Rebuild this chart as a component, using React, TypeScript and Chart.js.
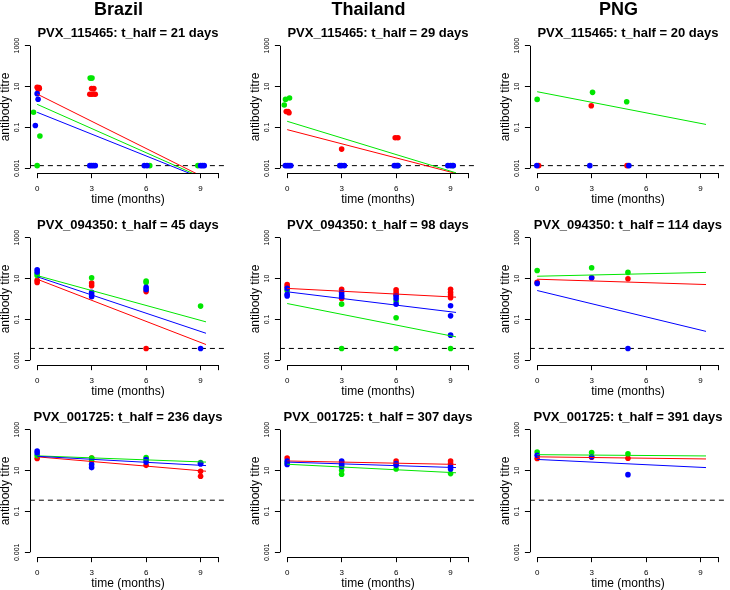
import React, { useEffect, useRef } from "react";
import { Chart, registerables } from "chart.js";

Chart.register(...registerables);

const FONT = '"Liberation Sans", Arial, Helvetica, sans-serif';

// ---- labels / axes ----
const countries = ["Brazil", "Thailand", "PNG"];
const antigens = ["PVX_115465", "PVX_094350", "PVX_001725"];
const halfLives = [
  [21, 29, 20],
  [45, 98, 114],
  [236, 307, 391],
];
const cutoffs = [0.00135, 0.0038, 0.355];
const xTicks = [0, 3, 6, 9, 10];
const xTickLabels = ["0", "3", "6", "9", ""];
const yTicks = [0.001, 0.1, 10, 1000];
const yTickLabels = ["0.001", "0.1", "10", "1000"];
const fitTimes = [0, 9.3];
const xTitle = "time (months)";
const yTitle = "antibody titre";

type Pt = [number, number];
type Fit = { red?: number[]; green?: number[]; blue?: number[] };

// ---- PVX_115465 ----
const cA = cutoffs[0];
const braA_red: Pt[] = [[0.0, 9.3], [0.1, 9.0], [0.05, 7.6], [0.12, 8.0], [2.9, 4.2], [3.0, 4.2], [3.1, 4.3], [3.2, 4.2], [3.0, 8.1], [3.12, 8.1]];
const braA_green: Pt[] = [[-0.2, 0.55], [0.15, 0.038], [0.0, cA], [2.92, 26], [3.02, 26], [6.2, cA], [8.85, cA]];
const braA_blue: Pt[] = [[0.0, 4.5], [0.05, 2.4], [-0.1, 0.125], [2.9, cA], [3.0, cA], [3.1, cA], [3.2, cA], [5.9, cA], [6.05, cA], [9.0, cA], [9.1, cA], [9.2, cA]];
const braA_fit: Fit = { red: [4.3, 0.00032], green: [1.35, 0.00029], blue: [0.55, 0.00027] };

const thaA_red: Pt[] = [[-0.05, 0.6], [0.05, 0.6], [0.1, 0.52], [3.0, 0.0087], [5.95, 0.031], [6.1, 0.031]];
const thaA_green: Pt[] = [[-0.16, 1.25], [-0.09, 2.35], [0.13, 2.75], [6.1, cA], [9.1, cA]];
const thaA_blue: Pt[] = [[-0.1, cA], [0.0, cA], [0.1, cA], [0.2, cA], [2.9, cA], [3.0, cA], [3.15, cA], [5.9, cA], [6.0, cA], [6.1, cA], [8.85, cA], [9.0, cA], [9.15, cA]];
const thaA_fit: Fit = { red: [0.078, 0.00056], green: [0.2, 0.0006] };

const pngA_red: Pt[] = [[2.98, 1.15], [0.08, cA], [4.95, cA]];
const pngA_green: Pt[] = [[0, 2.35], [3.05, 5.2], [4.93, 1.8]];
const pngA_blue: Pt[] = [[-0.02, cA], [2.9, cA], [5.05, cA]];
const pngA_fit: Fit = { green: [5.6, 0.14] };

// ---- PVX_094350 ----
const cB = cutoffs[1];
const braB_red: Pt[] = [[0, 8.3], [0, 6.5], [3, 6], [3, 4.5], [6, 2.3], [6, cB]];
const braB_green: Pt[] = [[0, 17.5], [0, 14], [3, 11], [6, 7.6], [6, 6.5], [9, 0.45]];
const braB_blue: Pt[] = [[0, 27], [0, 21], [3, 2.1], [3, 1.55], [3, 1.3], [6, 3.7], [6, 2.9], [9, cB]];
const braB_fit: Fit = { red: [9.3, 0.0059], green: [14, 0.076], blue: [12.3, 0.021] };

const thaB_red: Pt[] = [[0, 5.1], [0, 4], [3, 3], [3, 1.07], [6, 2.8], [6, 2.1], [6, 1.6], [9, 3], [9, 2.1], [9, 1.55], [9, 1.15]];
const thaB_green: Pt[] = [[0, 2.6], [3, 0.56], [3, cB], [6, 0.8], [6, 0.12], [6, cB], [9, cB]];
const thaB_blue: Pt[] = [[0, 3.3], [0, 1.7], [0, 1.4], [3, 2.1], [3, 1.55], [3, 1.3], [6, 1.45], [6, 1.07], [6, 0.56], [9, 0.47], [9, 0.15], [9, 0.017]];
const thaB_fit: Fit = { red: [3.3, 1.23], green: [0.6, 0.014], blue: [2.25, 0.22] };

const pngB_red: Pt[] = [[0, 6.5], [3, 11], [5, 9.8]];
const pngB_green: Pt[] = [[0, 25], [3, 34], [5, 20]];
const pngB_blue: Pt[] = [[0, 5.8], [3, 11], [5, cB]];
const pngB_fit: Fit = { red: [9.3, 5.1], green: [13, 20], blue: [2.6, 0.026] };

// ---- PVX_001725 ----
const braC_red: Pt[] = [[0, 39], [3, 41], [6, 18], [9, 9.3], [9, 5.3]];
const braC_green: Pt[] = [[0, 54], [3, 41], [3, 30], [6, 43], [9, 25]];
const braC_blue: Pt[] = [[0, 91], [0, 72], [3, 20], [3, 14], [6, 35], [6, 26], [9, 23], [9, 21]];
const braC_fit: Fit = { red: [47, 9.3], green: [52.5, 26], blue: [50, 17.5] };

const thaC_red: Pt[] = [[0, 41], [3, 26], [6, 29], [9, 29], [9, 22]];
const thaC_green: Pt[] = [[0, 24], [3, 10.5], [3, 6.6], [6, 12], [9, 7.1]];
const thaC_blue: Pt[] = [[0, 29], [0, 20], [3, 29], [3, 20], [3, 16], [6, 22], [6, 18], [9, 16], [9, 12]];
const thaC_fit: Fit = { red: [29.5, 20], green: [20.4, 7.8], blue: [26, 14] };

const pngC_red: Pt[] = [[0, 39], [3, 45], [5, 40]];
const pngC_green: Pt[] = [[0, 81], [3, 76], [5, 67]];
const pngC_blue: Pt[] = [[0, 56], [3, 47], [5, 6.3]];
const pngC_fit: Fit = { red: [47, 37], green: [60, 52], blue: [35, 14] };

const colors: Record<string, string> = { red: "#ff0000", green: "#00e600", blue: "#0000ff" };

type PanelDef = { row: number; col: number; red: Pt[]; green: Pt[]; blue: Pt[]; fit: Fit };
const panels: PanelDef[] = [
  { row: 0, col: 0, red: braA_red, green: braA_green, blue: braA_blue, fit: braA_fit },
  { row: 0, col: 1, red: thaA_red, green: thaA_green, blue: thaA_blue, fit: thaA_fit },
  { row: 0, col: 2, red: pngA_red, green: pngA_green, blue: pngA_blue, fit: pngA_fit },
  { row: 1, col: 0, red: braB_red, green: braB_green, blue: braB_blue, fit: braB_fit },
  { row: 1, col: 1, red: thaB_red, green: thaB_green, blue: thaB_blue, fit: thaB_fit },
  { row: 1, col: 2, red: pngB_red, green: pngB_green, blue: pngB_blue, fit: pngB_fit },
  { row: 2, col: 0, red: braC_red, green: braC_green, blue: braC_blue, fit: braC_fit },
  { row: 2, col: 1, red: thaC_red, green: thaC_green, blue: thaC_blue, fit: thaC_fit },
  { row: 2, col: 2, red: pngC_red, green: pngC_green, blue: pngC_blue, fit: pngC_fit },
];

// axis ranges (R style 4% extension)
const X_MIN = -0.4;
const X_MAX = 10.4;
const Y_MIN = Math.pow(10, -3.24);
const Y_MAX = Math.pow(10, 3.24);

const CW = 230;
const CH = 206;

const rStyle = {
  id: "rStyle",
  afterDraw(chart: any, _args: any, opts: any) {
    const { ctx, chartArea } = chart;
    const xs = chart.scales.x;
    const ys = chart.scales.y;
    ctx.save();
    ctx.strokeStyle = "#000";
    ctx.lineWidth = 1;
    const ax = Math.round(chartArea.left) + 0.5;
    const ay = Math.round(chartArea.bottom) + 0.5;
    ctx.beginPath();
    ctx.moveTo(ax, ys.getPixelForValue(yTicks[0]));
    ctx.lineTo(ax, ys.getPixelForValue(yTicks[yTicks.length - 1]));
    ctx.moveTo(xs.getPixelForValue(xTicks[0]), ay);
    ctx.lineTo(xs.getPixelForValue(xTicks[xTicks.length - 1]), ay);
    ctx.stroke();

    ctx.fillStyle = "#000";
    ctx.font = `7px ${FONT}`;
    ctx.textAlign = "center";
    ctx.textBaseline = "middle";
    yTicks.forEach((v, i) => {
      const py = ys.getPixelForValue(v);
      ctx.save();
      ctx.translate(chartArea.left - 13, py);
      ctx.rotate(-Math.PI / 2);
      ctx.fillText(yTickLabels[i], 0, 0);
      ctx.restore();
    });

    ctx.textBaseline = "alphabetic";
    ctx.font = `bold 13px ${FONT}`;
    ctx.fillText(opts.title, (chartArea.left + chartArea.right) / 2, chartArea.top - 3.5);
    if (opts.header) {
      ctx.font = `bold 18px ${FONT}`;
      ctx.fillText(opts.header, 118.5, 14.5);
    }
    ctx.restore();
  },
};

function Panel({ p }: { p: PanelDef }) {
  const ref = useRef<HTMLCanvasElement>(null);
  useEffect(() => {
    const datasets: any[] = [];
    const cut = cutoffs[p.row];
    datasets.push({
      label: "cutoff",
      data: [{ x: X_MIN, y: cut }, { x: X_MAX, y: cut }],
      showLine: true,
      borderColor: "#000",
      borderWidth: 1,
      borderDash: [5, 4],
      pointRadius: 0,
      order: 10,
    });
    (["red", "green", "blue"] as const).forEach((c, i) => {
      datasets.push({
        label: c + " points",
        data: p[c].map(([x, y]) => ({ x, y })),
        backgroundColor: colors[c],
        borderColor: colors[c],
        borderWidth: 0,
        pointRadius: 2.8,
        showLine: false,
        order: 7 - i,
      });
    });
    (["red", "green", "blue"] as const).forEach((c, i) => {
      const f = p.fit[c];
      if (!f) return;
      datasets.push({
        label: c + " fit",
        data: fitTimes.map((t, k) => ({ x: t, y: f[k] })),
        borderColor: colors[c],
        borderWidth: 1,
        pointRadius: 0,
        showLine: true,
        order: 3 - i,
      });
    });

    const tickFont = { family: FONT, size: 8 };
    const chart = new Chart(ref.current as HTMLCanvasElement, {
      type: "scatter",
      data: { datasets },
      plugins: [rStyle as any],
      options: {
        animation: false,
        responsive: false,
        devicePixelRatio: 1,
        events: [],
        layout: { padding: { top: 40.8, left: 0, right: CW - 229.7, bottom: 0 } },
        plugins: {
          legend: { display: false },
          tooltip: { enabled: false },
          title: { display: false },
          rStyle: {
            title: `${antigens[p.row]}: t_half = ${halfLives[p.row][p.col]} days`,
            header: p.row === 0 ? countries[p.col] : "",
          },
        } as any,
        scales: {
          x: {
            type: "linear",
            min: X_MIN,
            max: X_MAX,
            afterBuildTicks: (s: any) => {
              s.ticks = xTicks.map((v) => ({ value: v }));
            },
            afterFit: (s: any) => {
              s.height = CH - 173.2;
            },
            ticks: {
              callback: (_v: any, i: number) => xTickLabels[i],
              font: tickFont,
              color: "#000",
              padding: 6,
              maxRotation: 0,
              minRotation: 0,
              autoSkip: false,
            },
            grid: { display: true, drawOnChartArea: false, drawTicks: true, tickLength: 5, color: "#000", lineWidth: 1 },
            border: { display: false },
            title: { display: true, text: xTitle, color: "#000", font: { family: FONT, size: 12, lineHeight: 1 }, padding: 0 },
          },
          y: {
            type: "logarithmic",
            min: Y_MIN,
            max: Y_MAX,
            afterBuildTicks: (s: any) => {
              s.ticks = yTicks.map((v) => ({ value: v }));
            },
            afterFit: (s: any) => {
              s.width = 29.9;
            },
            ticks: { display: false },
            grid: { display: true, drawOnChartArea: false, drawTicks: true, tickLength: 5, color: "#000", lineWidth: 1 },
            border: { display: false },
            title: { display: true, text: yTitle, color: "#000", font: { family: FONT, size: 12, lineHeight: 1 }, padding: 0 },
          },
        } as any,
      },
    });
    return () => chart.destroy();
  }, [p]);
  return (
    <canvas
      ref={ref}
      width={CW}
      height={CH}
      style={{ position: "absolute", left: 250 * p.col, top: 192 * p.row, width: CW, height: CH }}
    />
  );
}

export default function App() {
  return (
    <div style={{ position: "absolute", left: 0, top: 0, width: 730, height: 590, background: "#fff", overflow: "hidden" }}>
      {panels.map((p) => (
        <Panel key={`${p.row}-${p.col}`} p={p} />
      ))}
    </div>
  );
}
